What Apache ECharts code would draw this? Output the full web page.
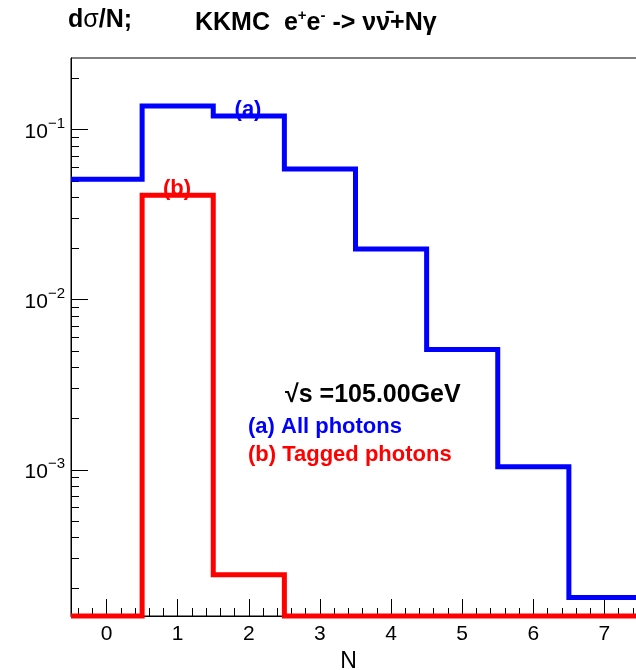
<!DOCTYPE html>
<html>
<head>
<meta charset="utf-8">
<script src="https://cdn.jsdelivr.net/npm/echarts@6/dist/echarts.min.js"></script>
<style>html,body{margin:0;padding:0;background:#fff}#c{width:636px;height:670px}</style>
</head>
<body>
<div id="c"></div>
<script>
// ---- data ----
const binCenters = [0, 1, 2, 3, 4, 5, 6, 7];
const allPhotons = [0.0511, 0.1377, 0.1204, 0.0588, 0.01987, 0.00510, 0.00104, 0.0001775];
const taggedPhotons = [0, 0.0411, 0.000241, 0, 0, 0, 0, 0];
const xTickLabels = [0, 1, 2, 3, 4, 5, 6, 7];
const yTickLabels = [1e-3, 1e-2, 1e-1];

const X_MIN = -0.5, X_MAX = 7.5;
const Y_MIN = 1.38e-4, Y_MAX = 0.264;

// minor ticks
const xMinor = [];
for (let k = -2; k <= 37; k++) { const v = +(k * 0.2).toFixed(2); if (k % 5 !== 0 && v > X_MIN && v < X_MAX) xMinor.push(v); }
const yMinor = [];
for (let e = -4; e <= -1; e++) for (let m = 2; m <= 9; m++) { const v = +(m * Math.pow(10, e)).toPrecision(3); if (v > Y_MIN && v < Y_MAX) yMinor.push(v); }

function histPoints(vals) {
  const pts = vals.map((v, i) => [binCenters[i] - 0.5, v > 0 ? v : Y_MIN]);
  const last = vals.length - 1;
  pts.push([binCenters[last] + 0.5, vals[last] > 0 ? vals[last] : Y_MIN]);
  return pts;
}

const FONT = '"Liberation Sans", Arial, Helvetica, sans-serif';
const chart = echarts.init(document.getElementById('c'), null, {renderer: 'canvas'});

const option = {
  animation: false,
  backgroundColor: '#fff',
  grid: {left: 71, top: 58, width: 569, height: 558, show: true, borderColor: '#000', borderWidth: 1, containLabel: false, outerBoundsMode: 'none'},
  xAxis: [
    {
      type: 'value', min: X_MIN, max: X_MAX, position: 'bottom',
      name: 'N', nameLocation: 'middle', nameGap: 30,
      nameTextStyle: {fontFamily: FONT, fontSize: 23, color: '#000', padding: [0, 14, 0, 0]},
      axisLine: {show: true, onZero: false, lineStyle: {color: '#000', width: 1}},
      axisTick: {show: true, inside: true, length: 17, customValues: xTickLabels, lineStyle: {color: '#000', width: 1}},
      axisLabel: {show: true, customValues: xTickLabels, margin: 8, fontFamily: FONT, fontSize: 21, color: '#000'},
      splitLine: {show: false}
    },
    {
      type: 'value', min: X_MIN, max: X_MAX, position: 'bottom', offset: 0,
      axisLine: {show: false, onZero: false},
      axisTick: {show: true, inside: true, length: 8, customValues: xMinor, lineStyle: {color: '#000', width: 1}},
      axisLabel: {show: false},
      splitLine: {show: false}
    }
  ],
  yAxis: [
    {
      type: 'log', logBase: 10, min: Y_MIN, max: Y_MAX, position: 'left',
      axisLine: {show: true, onZero: false, lineStyle: {color: '#000', width: 1}},
      axisTick: {show: true, inside: true, length: 17, customValues: yTickLabels, lineStyle: {color: '#000', width: 1}},
      axisLabel: {
        show: true, customValues: yTickLabels, margin: 6,
        formatter: function (v) { const e = Math.round(Math.log10(v)); return '{n|10}{s|' + (e < 0 ? '\u2212' + (-e) : e) + '}'; },
        rich: {
          n: {fontFamily: FONT, fontSize: 21, color: '#000', lineHeight: 26, verticalAlign: 'bottom'},
          s: {fontFamily: FONT, fontSize: 15, color: '#000', lineHeight: 26, verticalAlign: 'top'}
        }
      },
      splitLine: {show: false}
    },
    {
      type: 'log', logBase: 10, min: Y_MIN, max: Y_MAX, position: 'left', offset: 0,
      axisLine: {show: false, onZero: false},
      axisTick: {show: true, inside: true, length: 8, customValues: yMinor, lineStyle: {color: '#000', width: 1}},
      axisLabel: {show: false},
      splitLine: {show: false}
    }
  ],
  series: [
    {
      name: '(a) All photons', type: 'line', step: 'end', xAxisIndex: 0, yAxisIndex: 0,
      data: histPoints(allPhotons), showSymbol: false, symbol: 'none', clip: false,
      lineStyle: {color: '#0000ff', width: 5, cap: 'butt', join: 'miter'}, z: 3
    },
    {
      name: '(b) Tagged photons', type: 'line', step: 'end', xAxisIndex: 0, yAxisIndex: 0,
      data: histPoints(taggedPhotons), showSymbol: false, symbol: 'none', clip: false,
      lineStyle: {color: '#ff0000', width: 5, cap: 'butt', join: 'miter'}, z: 4
    }
  ],
  graphic: [
    {type: 'text', left: 68, top: 8, z: 10, style: {
      text: '{b|d}{g|\u03c3}{b|/N;}', rich: {
        b: {font: 'bold 25px ' + FONT, fill: '#000', lineHeight: 28},
        g: {font: '25px ' + FONT, fill: '#000', lineHeight: 28}
      }}},
    {type: 'text', left: 195, top: 8, z: 10, style: {
      text: '{b|KKMC  e}{sp|+}{b|e}{sp|-}{b| -> \u03bd\u03bd\u0304+N\u03b3}', rich: {
        b: {font: 'bold 25px ' + FONT, fill: '#000', lineHeight: 28, verticalAlign: 'bottom'},
        sp: {font: 'bold 15px ' + FONT, fill: '#000', lineHeight: 28, verticalAlign: 'top'}
      }}},
    {type: 'text', x: 285, y: 395, z: 10, style: {text: '\u221As =105.00GeV', font: 'bold 25px ' + FONT, fill: '#000', verticalAlign: 'middle'}},
    {type: 'text', x: 248, y: 427, z: 10, style: {text: '(a) All photons', font: 'bold 22px ' + FONT, fill: '#0000ff', verticalAlign: 'middle'}},
    {type: 'text', x: 248, y: 455, z: 10, style: {text: '(b) Tagged photons', font: 'bold 22px ' + FONT, fill: '#ff0000', verticalAlign: 'middle'}},
    {type: 'text', x: 248, y: 110, z: 10, style: {text: '(a)', font: 'bold 22px ' + FONT, fill: '#0000ff', align: 'center', verticalAlign: 'middle'}},
    {type: 'text', x: 177, y: 189, z: 10, style: {text: '(b)', font: 'bold 22px ' + FONT, fill: '#ff0000', align: 'center', verticalAlign: 'middle'}}
  ]
};
chart.setOption(option);
</script>
</body>
</html>
